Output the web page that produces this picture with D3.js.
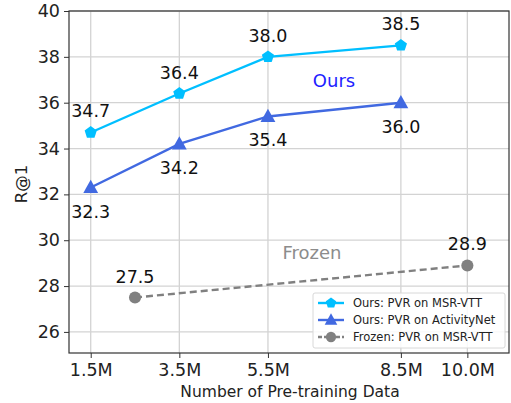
<!DOCTYPE html>
<html>
<head>
<meta charset="utf-8">
<script src="https://cdn.jsdelivr.net/npm/d3@7"></script>
<style>
  body { margin: 0; background: #fff; }
  text { font-family: "DejaVu Sans", sans-serif; }
</style>
</head>
<body>
<svg id="svg1" width="511" height="403"></svg>
<script>
// data (x in millions of pre-training samples, y = R@1)
var oursMsrX = [1.5, 3.5, 5.5, 8.5];
var oursMsrY = [34.7, 36.4, 38.0, 38.5];
var oursAnetX = [1.5, 3.5, 5.5, 8.5];
var oursAnetY = [32.3, 34.2, 35.4, 36.0];
var frozenX = [2.5, 10.0];
var frozenY = [27.5, 28.9];
var xTicks = [1.5, 3.5, 5.5, 8.5, 10.0];
var yTicks = [26, 28, 30, 32, 34, 36, 38, 40];
var legendLabels = ["Ours: PVR on MSR-VTT", "Ours: PVR on ActivityNet", "Frozen: PVR on MSR-VTT"];

var svg = d3.select("#svg1"),
  pLeft = 69, pRight = 509, pTop = 11, pBottom = 353;

var xScale = d3.scaleLinear().domain([1.01, 10.94]).range([pLeft, pRight]),
  yScale = d3.scaleLinear().domain([40, 25.08]).range([pTop, pBottom]);

var cyan = "#00bfff", blue = "#4169e1", gray = "#808080";

// grid
svg.append("g")
  .selectAll("line")
  .data(xTicks)
  .enter()
  .append("line")
  .attr("x1", function (d) { return xScale(d); })
  .attr("x2", function (d) { return xScale(d); })
  .attr("y1", pTop)
  .attr("y2", pBottom)
  .style("stroke", "#d3d3d3")
  .style("stroke-width", 1.3);

svg.append("g")
  .selectAll("line")
  .data(yTicks)
  .enter()
  .append("line")
  .attr("x1", pLeft)
  .attr("x2", pRight)
  .attr("y1", function (d) { return yScale(d); })
  .attr("y2", function (d) { return yScale(d); })
  .style("stroke", "#d3d3d3")
  .style("stroke-width", 1.3);

// axes
var xAxis = svg.append("g")
  .attr("transform", "translate(0," + pBottom + ")")
  .call(d3.axisBottom(xScale).tickValues(xTicks).tickSize(5).tickPadding(6)
    .tickFormat(function (d) { return d.toFixed(1) + "M"; }));
var yAxis = svg.append("g")
  .attr("transform", "translate(" + pLeft + ",0)")
  .call(d3.axisLeft(yScale).tickValues(yTicks).tickSize(5).tickPadding(4));
[xAxis, yAxis].forEach(function (a) {
  a.select(".domain").remove();
  a.selectAll("text").style("font-family", "DejaVu Sans").style("font-size", "17.5px").style("fill", "#222");
  a.selectAll("line").style("stroke", "#333");
});

// frame
svg.append("rect")
  .attr("x", pLeft).attr("y", pTop)
  .attr("width", pRight - pLeft).attr("height", pBottom - pTop)
  .style("fill", "none")
  .style("stroke", "#333")
  .style("stroke-width", 1.2);

// labels
svg.append("text")
  .attr("x", 290)
  .attr("y", 397)
  .attr("text-anchor", "middle")
  .style("font-size", "15.5px")
  .style("fill", "#222")
  .text("Number of Pre-training Data");

svg.append("text")
  .attr("text-anchor", "middle")
  .attr("transform", "translate(27,184)rotate(-90)")
  .style("font-size", "16.5px")
  .style("fill", "#222")
  .text("R@1");

var line = d3.line()
  .x(function (d) { return xScale(d[0]); })
  .y(function (d) { return yScale(d[1]); });

function zip(xs, ys) {
  return xs.map(function (x, i) { return [x, ys[i]]; });
}

var series = [
  { pts: zip(oursMsrX, oursMsrY), color: cyan, kind: "pent", dash: null, lab: -15 },
  { pts: zip(oursAnetX, oursAnetY), color: blue, kind: "tri", dash: null, lab: 30 },
  { pts: zip(frozenX, frozenY), color: gray, kind: "circ", dash: "7,4", lab: -15 }
];

function pentPath(r) {
  var p = [];
  for (var i = 0; i < 5; i++) {
    var a = -Math.PI / 2 + i * 2 * Math.PI / 5;
    p.push([r * Math.cos(a), r * Math.sin(a)]);
  }
  return "M" + p.join("L") + "Z";
}
function triPath(r) {
  return "M0," + (-r) + "L" + (r * 0.95) + "," + (r * 0.7) + "L" + (-r * 0.95) + "," + (r * 0.7) + "Z";
}
function markerPath(kind, s) {
  if (kind === "pent") return pentPath(6.4 * s);
  if (kind === "tri") return triPath(7.8 * s);
  return d3.symbol().type(d3.symbolCircle).size(115 * s * s)();
}

series.forEach(function (s) {
  svg.append("path")
    .datum(s.pts)
    .attr("d", line)
    .style("fill", "none")
    .style("stroke", s.color)
    .style("stroke-width", 2.4)
    .style("stroke-dasharray", s.dash);

  svg.append("g")
    .selectAll("path")
    .data(s.pts)
    .enter()
    .append("path")
    .attr("d", markerPath(s.kind, 1))
    .attr("transform", function (d) { return "translate(" + xScale(d[0]) + "," + yScale(d[1]) + ")"; })
    .style("fill", s.color);

  svg.append("g")
    .selectAll("text")
    .data(s.pts)
    .enter()
    .append("text")
    .attr("x", function (d) { return xScale(d[0]); })
    .attr("y", function (d) { return yScale(d[1]) + s.lab; })
    .attr("text-anchor", "middle")
    .style("font-size", "17.5px")
    .style("fill", "#111")
    .text(function (d) { return d[1].toFixed(1); });
});

svg.append("text")
  .attr("x", 334).attr("y", 87)
  .attr("text-anchor", "middle")
  .style("font-size", "18px")
  .style("fill", "#1f1fff")
  .text("Ours");

svg.append("text")
  .attr("x", 312).attr("y", 259)
  .attr("text-anchor", "middle")
  .style("font-size", "18px")
  .style("fill", "#8c8c8c")
  .text("Frozen");

// legend
var lg = svg.append("g");
lg.append("rect")
  .attr("x", 313).attr("y", 293)
  .attr("width", 192).attr("height", 55)
  .attr("rx", 2)
  .style("fill", "#fff")
  .style("fill-opacity", 0.85)
  .style("stroke", "#d8d8d8");

series.forEach(function (s, i) {
  var y = 303 + i * 17;
  lg.append("line")
    .attr("x1", 318).attr("x2", 344)
    .attr("y1", y).attr("y2", y)
    .style("stroke", s.color)
    .style("stroke-width", 2.4)
    .style("stroke-dasharray", s.dash ? "4,2" : null);
  lg.append("path")
    .attr("d", markerPath(s.kind, 0.85))
    .attr("transform", "translate(331," + y + ")")
    .style("fill", s.color);
  lg.append("text")
    .attr("x", 353).attr("y", y + 4)
    .style("font-size", "11.5px")
    .style("fill", "#222")
    .text(legendLabels[i]);
});
</script>
</body>
</html>
